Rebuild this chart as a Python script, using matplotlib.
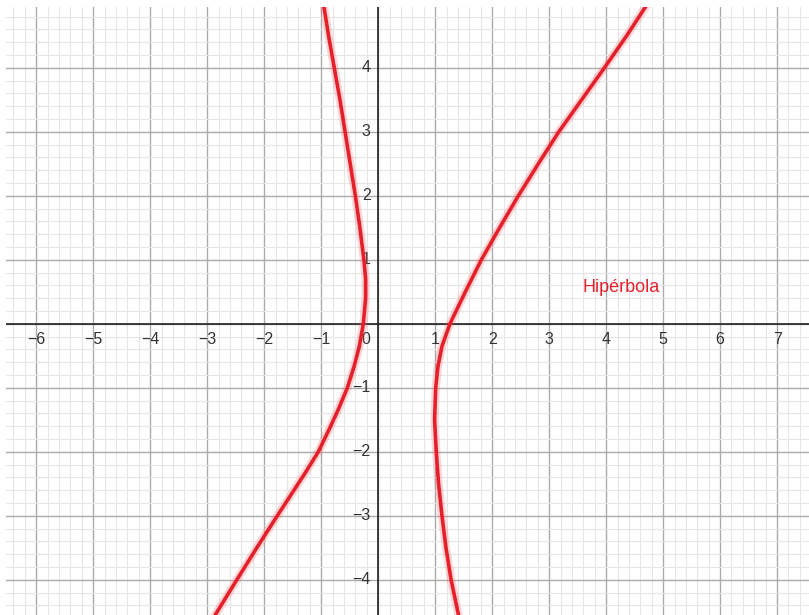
import numpy as np
import matplotlib.pyplot as plt

plt.rcParams['font.family'] = ['Liberation Sans', 'DejaVu Sans']

left_y = [5.06, 4.5, 4.0, 3.5, 3.0, 2.5, 2.0, 1.5, 1.0, 0.7, 0.4, 0.0, -0.35,
          -0.66, -1.0, -1.34, -1.65, -2.0, -2.33, -2.7, -3.0, -3.5, -4.0, -4.55]
left_x = [-0.97, -0.87, -0.77, -0.67, -0.58, -0.49, -0.40, -0.32, -0.25, -0.22,
          -0.22, -0.26, -0.33, -0.42, -0.54, -0.70, -0.86, -1.05, -1.28, -1.55,
          -1.77, -2.13, -2.48, -2.86]

right_y = [-4.55, -4.0, -3.5, -3.0, -2.5, -2.0, -1.5, -1.0, -0.66, -0.35, 0.0,
           0.5, 1.0, 1.5, 2.0, 2.5, 3.0, 3.5, 4.0, 4.5, 5.06]
right_x = [1.41, 1.28, 1.19, 1.12, 1.06, 1.02, 0.99, 1.01, 1.05, 1.12, 1.26,
           1.53, 1.81, 2.13, 2.46, 2.81, 3.17, 3.57, 3.97, 4.36, 4.77]

x_ticks = [-6, -5, -4, -3, -2, -1, 1, 2, 3, 4, 5, 6, 7]
y_ticks = [-4, -3, -2, -1, 1, 2, 3, 4]
label_text = 'Hipérbola'

red = '#e3202c'

fig = plt.figure(figsize=(8.09, 6.15), dpi=100)
ax = fig.add_axes([6 / 809, 0, 803 / 809, 608 / 615])

ax.set_xticks(np.arange(-7, 9, 1))
ax.set_yticks(np.arange(-5, 6, 1))
ax.set_xticks(np.arange(-7, 8.01, 0.2), minor=True)
ax.set_yticks(np.arange(-5, 5.01, 0.2), minor=True)
ax.set_xlim(-6.53, 7.56)
ax.set_ylim(-4.55, 4.95)
ax.grid(which='minor', color='#e6e6e6', lw=0.8)
ax.grid(which='major', color='#ababab', lw=1.0)
ax.tick_params(which='both', length=0, labelbottom=False, labelleft=False)
for s in ax.spines.values():
    s.set_visible(False)
ax.set_axisbelow(True)

ax.axhline(0, color='#222222', lw=1.2, zorder=2)
ax.axvline(0, color='#222222', lw=1.2, zorder=2)

for t in x_ticks:
    ax.text(t, -0.25, str(t).replace('-', '\u2212'), ha='center', va='center',
            fontsize=11.5, color='#333333')
for t in y_ticks:
    ax.text(-0.13, t, str(t).replace('-', '\u2212'), ha='right', va='center',
            fontsize=11.5, color='#333333')
ax.text(-0.21, -0.24, '0', ha='center', va='center', fontsize=11.5, color='#333333')

for xs, ys in [(left_x, left_y), (right_x, right_y)]:
    ax.plot(xs, ys, color='#ff5a5a', lw=6, alpha=0.25, solid_joinstyle='round', zorder=3)
    ax.plot(xs, ys, color=red, lw=2.6, solid_joinstyle='round', zorder=4)

ax.text(3.58, 0.56, label_text, color=red, fontsize=13, ha='left', va='center')

fig.savefig('out.png', dpi=100)
